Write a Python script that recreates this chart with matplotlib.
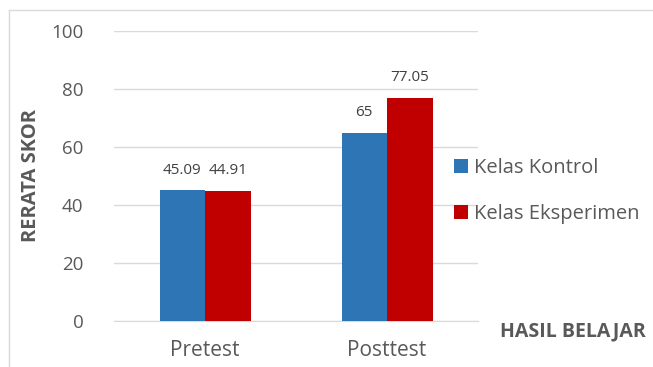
import matplotlib
matplotlib.use("Agg")
import matplotlib.pyplot as plt
import numpy as np
from matplotlib.lines import Line2D

categories = ["Pretest", "Posttest"]
series_names = ["Kelas Kontrol", "Kelas Eksperimen"]
kontrol = [45.09, 65]
eksperimen = [44.91, 77.05]
kontrol_labels = ["45.09", "65"]
eksperimen_labels = ["44.91", "77.05"]
yticks = [0, 20, 40, 60, 80, 100]

W, H = 653, 367
fig = plt.figure(figsize=(W / 100, H / 100), dpi=100)
plt.rcParams['font.family'] = ['Open Sans', 'DejaVu Sans']
grey = "#595959"

ax = fig.add_axes([114 / W, 1 - 321 / H, (478 - 114) / W, (321 - 31) / H])
x = np.arange(len(categories))
bw = 0.25
b1 = ax.bar(x - bw / 2, kontrol, bw, color="#2E75B6", label=series_names[0], zorder=3)
b2 = ax.bar(x + bw / 2, eksperimen, bw, color="#C00000", label=series_names[1], zorder=3)

for rects, labs in ((b1, kontrol_labels), (b2, eksperimen_labels)):
    for r, lab in zip(rects, labs):
        ax.annotate(lab, (r.get_x() + r.get_width() / 2, r.get_height()),
                    xytext=(0, 9), textcoords="offset points",
                    ha="center", va="bottom", fontsize=11, color="#404040")

ax.set_xlim(-0.5, 1.5)
ax.set_ylim(0, 100)
ax.set_yticks(yticks)
ax.set_xticks(x)
ax.set_xticklabels(categories)
ax.yaxis.grid(True, color="#D9D9D9", linewidth=1, zorder=0)
for s in ["top", "right", "left"]:
    ax.spines[s].set_visible(False)
ax.spines["bottom"].set_color("#D9D9D9")
ax.tick_params(axis="both", length=0, colors=grey)
ax.tick_params(axis="y", pad=22, labelsize=13.5)
ax.tick_params(axis="x", pad=14, labelsize=15)

ax.set_ylabel("RERATA SKOR", fontsize=14.5, fontweight="bold", color=grey, labelpad=7)
fig.text(646 / W, 1 - 331 / H, "HASIL BELAJAR", ha="right", va="center",
         fontsize=14, fontweight="bold", color=grey)

fig.legend(handles=[b1, b2], labels=series_names, loc="center left",
           bbox_to_anchor=(436 / W, 1 - 191 / H), frameon=False,
           fontsize=14.5, labelcolor=grey, handlelength=0.7, handleheight=0.7,
           handletextpad=0.3, labelspacing=1.3)

fig.add_artist(Line2D([9 / W, 1], [1 - 10 / H, 1 - 10 / H], color="#D9D9D9", lw=1, transform=fig.transFigure))
fig.add_artist(Line2D([9 / W, 9 / W], [0, 1 - 10 / H], color="#D9D9D9", lw=1, transform=fig.transFigure))

fig.savefig("out.png", dpi=100)
